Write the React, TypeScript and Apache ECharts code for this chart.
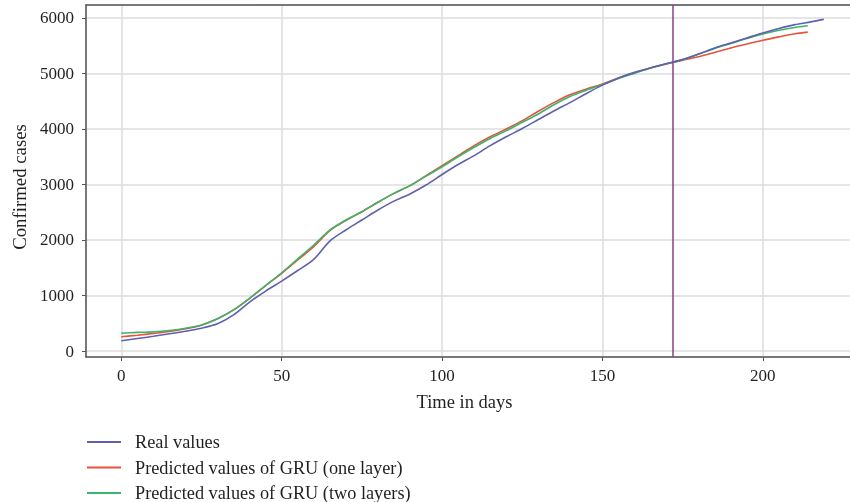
import React, { useEffect, useRef } from "react";
import * as echarts from "echarts";

const days = [0, 5, 10, 15, 20, 25, 30, 35, 40, 45, 50, 55, 60, 65, 70, 75, 80, 85, 90, 95, 100, 105, 110, 115, 120, 125, 130, 135, 140, 145, 150, 155, 160, 165, 170, 175, 180, 185, 190, 195, 200, 205, 210, 215];

const realValues = [186, 225, 265, 310, 355, 410, 490, 650, 880, 1080, 1260, 1450, 1650, 1980, 2180, 2360, 2540, 2700, 2830, 2990, 3180, 3360, 3520, 3700, 3860, 4010, 4170, 4330, 4480, 4640, 4790, 4920, 5020, 5100, 5180, 5250, 5350, 5460, 5550, 5640, 5730, 5810, 5880, 5930];
const realLast: [number, number] = [219, 5975];

const oneLayer = [258, 285, 315, 350, 400, 465, 580, 740, 950, 1180, 1400, 1640, 1880, 2170, 2350, 2510, 2680, 2840, 2980, 3160, 3340, 3520, 3700, 3860, 4000, 4150, 4320, 4480, 4620, 4720, 4810, 4920, 5010, 5100, 5170, 5240, 5300, 5380, 5460, 5530, 5600, 5660, 5715];
const oneLast: [number, number] = [214, 5745];

const twoLayers = [319, 335, 345, 370, 410, 470, 580, 740, 950, 1180, 1410, 1660, 1910, 2180, 2360, 2510, 2680, 2840, 2980, 3150, 3320, 3500, 3670, 3830, 3970, 4120, 4270, 4440, 4590, 4700, 4800, 4910, 5005, 5100, 5175, 5250, 5350, 5450, 5540, 5630, 5710, 5780, 5830];
const twoLast: [number, number] = [214, 5860];

const splitDay = 172;

const names = [
  "Real values",
  "Predicted values of GRU (one layer)",
  "Predicted values of GRU (two layers)",
];
const colors = ["#5f60ae", "#e5533c", "#3db36b"];

const FONT = "Liberation Serif";
const TEXT = "#231f20";

function pairs(vals: number[], last: [number, number]) {
  const out: [number, number][] = vals.map((v, i) => [days[i], v]);
  out.push(last);
  return out;
}

export default function App() {
  const ref = useRef<HTMLDivElement>(null);
  useEffect(() => {
    if (!ref.current) return;
    const chart = echarts.init(ref.current, undefined, { renderer: "svg" });
    const axisLine = { show: true, onZero: false, lineStyle: { color: "#555", width: 1.5 } };
    const splitLine = { show: true, lineStyle: { color: "#dcdcdc", width: 1.5 } };
    chart.setOption({
      animation: false,
      textStyle: { fontFamily: FONT, color: TEXT },
      grid: { left: 86, top: 5, right: 0, bottom: 145, containLabel: false },
      legend: {
        orient: "vertical",
        left: 87,
        top: 433,
        height: 80,
        padding: 0,
        itemWidth: 34,
        itemHeight: 2,
        itemGap: 7.5,
        icon: "rect",
        data: names,
        textStyle: { fontFamily: FONT, fontSize: 18.3, color: TEXT, lineHeight: 18, padding: [0, 0, 0, 9] },
      },
      xAxis: [
        {
          type: "value",
          min: -11,
          max: 228.1,
          name: "Time in days",
          nameLocation: "middle",
          nameGap: 35,
          nameTextStyle: { fontFamily: FONT, fontSize: 18.5, color: TEXT, padding: [0, 10, 0, 0] },
          axisLine,
          axisTick: { show: true, length: 4, lineStyle: { color: "#555" } },
          axisLabel: { fontFamily: FONT, fontSize: 17, color: TEXT, margin: 10, showMinLabel: false, showMaxLabel: false },
          splitLine,
        },
        {
          type: "value",
          min: -11,
          max: 228.1,
          position: "top",
          axisLine,
          axisTick: { show: false },
          axisLabel: { show: false },
          splitLine: { show: false },
        },
      ],
      yAxis: {
        type: "value",
        min: -108,
        max: 6234,
        name: "Confirmed cases",
        nameLocation: "middle",
        nameGap: 57,
        nameTextStyle: { fontFamily: FONT, fontSize: 18.8, color: TEXT, padding: [0, 12, 0, 0] },
        axisLine,
        axisTick: { show: true, length: 4, lineStyle: { color: "#555" } },
        axisLabel: {
          fontFamily: FONT,
          fontSize: 17,
          color: TEXT,
          margin: 12,
          showMinLabel: false,
          showMaxLabel: false,
          formatter: (v: number) => String(v),
        },
        splitLine,
      },
      series: [
        {
          name: names[1],
          type: "line",
          data: pairs(oneLayer, oneLast),
          smooth: 0.3,
          showSymbol: false,
          lineStyle: { color: colors[1], width: 1.6 },
          itemStyle: { color: colors[1] },
          z: 3,
        },
        {
          name: names[2],
          type: "line",
          data: pairs(twoLayers, twoLast),
          smooth: 0.3,
          showSymbol: false,
          lineStyle: { color: colors[2], width: 1.6 },
          itemStyle: { color: colors[2] },
          z: 4,
        },
        {
          name: names[0],
          type: "line",
          data: pairs(realValues, realLast),
          smooth: 0.3,
          showSymbol: false,
          lineStyle: { color: colors[0], width: 1.6 },
          itemStyle: { color: colors[0] },
          z: 5,
          markLine: {
            silent: true,
            symbol: ["none", "none"],
            label: { show: false },
            lineStyle: { color: "#8b3f88", width: 1.5, type: "solid" },
            data: [{ xAxis: splitDay }],
          },
        },
      ],
    });
    return () => chart.dispose();
  }, []);
  return <div ref={ref} style={{ position: "fixed", left: 0, top: 0, width: 853, height: 502 }} />;
}
